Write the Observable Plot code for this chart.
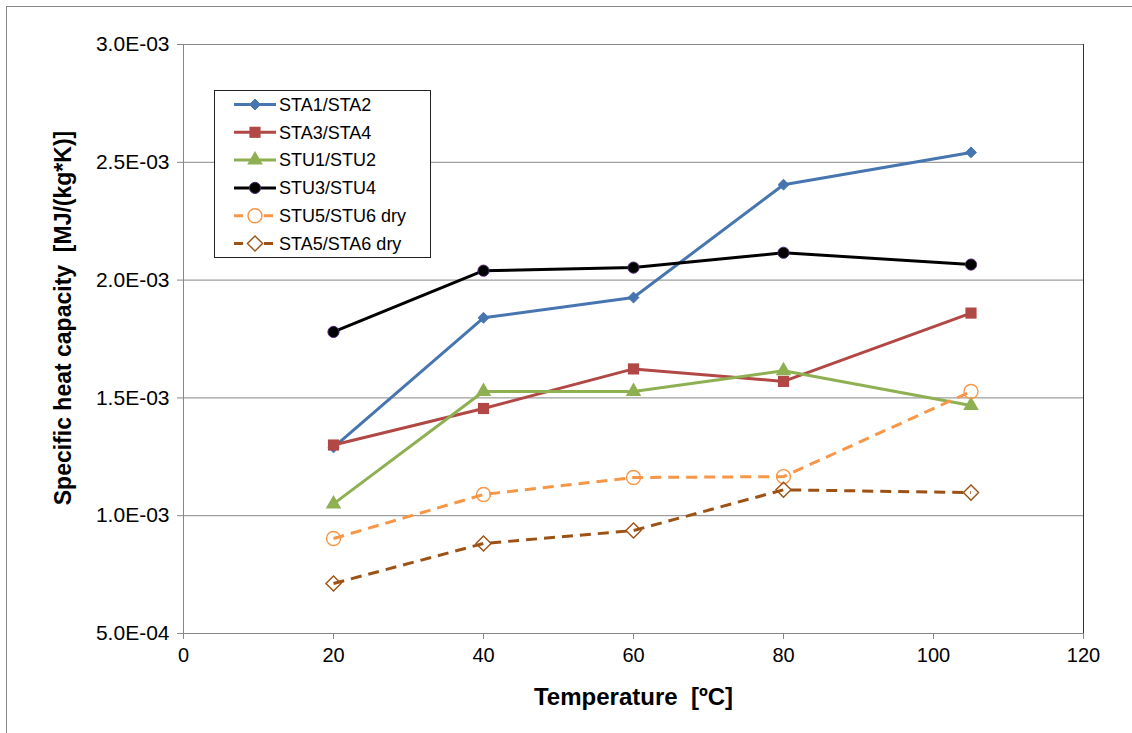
<!DOCTYPE html>
<html>
<head>
<meta charset="utf-8">
<script src="https://cdn.jsdelivr.net/npm/d3@7"></script>
<script src="https://cdn.jsdelivr.net/npm/@observablehq/plot@0.6"></script>
<style>
  html, body { margin: 0; padding: 0; background: #fff; }
  #wrap { position: relative; width: 1132px; height: 733px; overflow: hidden; font-family: "Liberation Sans", Arial, sans-serif; }
  #frame { position: absolute; left: 6px; top: 6px; width: 1200px; height: 800px; border-left: 1px solid #888; border-top: 1px solid #888; }
  #chart { position: absolute; left: 0; top: 0; }
  #legend { position: absolute; left: 214px; top: 90px; width: 215px; height: 166px; border: 1px solid #222; background: #fff; }
</style>
</head>
<body>
<div id="wrap">
  <div id="frame"></div>
  <div id="chart"></div>
  <div id="legend"></div>
</div>
<script>
// ---- data ----
const temps = [20, 40, 60, 80, 105];
const seriesNames = ["STA1/STA2", "STA3/STA4", "STU1/STU2", "STU3/STU4", "STU5/STU6 dry", "STA5/STA6 dry"];
const sta12 = [0.00129, 0.00184, 0.001926, 0.002405, 0.002542];
const sta34 = [0.0013, 0.001455, 0.001623, 0.00157, 0.00186];
const stu12 = [0.00105, 0.001527, 0.001527, 0.001615, 0.001468];
const stu34 = [0.00178, 0.00204, 0.002053, 0.002116, 0.002066];
const stu56dry = [0.000903, 0.00109, 0.001162, 0.001166, 0.001527];
const sta56dry = [0.000712, 0.000882, 0.000937, 0.00111, 0.001098];
const xTicks = [0, 20, 40, 60, 80, 100, 120];
const yTicks = [0.0005, 0.001, 0.0015, 0.002, 0.0025, 0.003];
const xTitle = "Temperature  [ºC]";
const yTitle = "Specific heat capacity  [MJ/(kg*K)]";

// ---- styles ----
const seriesValues = [sta12, sta34, stu12, stu34, stu56dry, sta56dry];
const styles = [
  {color: "#4675B0", symbol: "diamond2", r: 4.9, fill: "#4675B0", stroke: "#4675B0", dash: null},
  {color: "#B24845", symbol: "square", r: 6.3, fill: "#B24845", stroke: "none", dash: null},
  {color: "#8FB052", symbol: "triangle", r: 5.8, fill: "#8FB052", stroke: "none", dash: null},
  {color: "#000000", symbol: "circle", r: 5.6, fill: "#000000", stroke: "#4b2a6b", dash: null},
  {color: "#F79646", symbol: "circle", r: 7, fill: "none", stroke: "#F79646", dash: "11,7"},
  {color: "#9C5214", symbol: "diamond2", r: 6.8, fill: "none", stroke: "#9C5214", dash: "11,7"}
];

const rows = [];
seriesNames.forEach((name, si) => {
  temps.forEach((t, i) => rows.push({series: name, si, t, v: seriesValues[si][i]}));
});

function fmtE(d) {
  const e = Math.floor(Math.log10(d) + 1e-9);
  const m = d / Math.pow(10, e);
  return m.toFixed(1) + "E" + (e < 0 ? "-" : "+") + String(Math.abs(e)).padStart(2, "0");
}

const seriesMarks = [];
seriesNames.forEach((name, si) => {
  const s = styles[si];
  const data = rows.filter(r => r.si === si);
  seriesMarks.push(Plot.line(data, {x: "t", y: "v", stroke: s.color, strokeWidth: 3, strokeDasharray: s.dash, strokeLinecap: "butt", strokeLinejoin: "round"}));
  seriesMarks.push(Plot.dot(data, {x: "t", y: "v", symbol: () => s.symbol, r: s.r, fill: s.fill, stroke: s.stroke, strokeWidth: s.fill === "none" ? 1.4 : 1}));
});

const chart = Plot.plot({
  width: 1132,
  height: 733,
  marginLeft: 183,
  marginRight: 49,
  marginTop: 44,
  marginBottom: 100,
  style: {fontFamily: "'Liberation Sans', Arial, sans-serif", background: "transparent", color: "#000"},
  x: {domain: [0, 120]},
  y: {domain: [0.0005, 0.003]},
  symbol: {type: "identity"},
  marks: [
    Plot.gridY(yTicks, {stroke: "#878787", strokeOpacity: 1, strokeWidth: 1}),
    Plot.ruleX([0], {stroke: "#878787"}),
    Plot.ruleY([0.0005], {stroke: "#878787"}),
    Plot.ruleX([120], {stroke: "#333"}),
    Plot.axisX(xTicks, {tickSize: 6, tickPadding: 8, fontSize: 20, stroke: "#878787", label: null, fill: "#000"}),
    Plot.axisY(yTicks, {tickSize: 6, tickPadding: 8, fontSize: 21, stroke: "#878787", label: null, tickFormat: fmtE}),
    ...seriesMarks,
    Plot.text([xTitle], {frameAnchor: "bottom", dy: 71, fontSize: 24, fontWeight: "bold", fill: "#000"}),
    Plot.text([yTitle], {frameAnchor: "left", textAnchor: "middle", rotate: -90, dx: -120, dy: -21, fontSize: 23, fontWeight: "bold", fill: "#000"})
  ]
});
document.getElementById("chart").appendChild(chart);

// ---- legend ----
const lg = d3.select("#legend").append("svg").attr("width", 215).attr("height", 166)
  .style("font-family", "'Liberation Sans', Arial, sans-serif");
const symMap = {diamond2: d3.symbolDiamond2, square: d3.symbolSquare, triangle: d3.symbolTriangle, circle: d3.symbolCircle};
seriesNames.forEach((name, si) => {
  const s = styles[si];
  const cy = 13.5 + si * 27.8;
  const g = lg.append("g");
  g.append("line").attr("x1", 19).attr("x2", 61).attr("y1", cy).attr("y2", cy)
    .attr("stroke", s.color).attr("stroke-width", 3)
    .attr("stroke-dasharray", s.dash ? "9,6" : null);
  g.append("path").attr("d", d3.symbol(symMap[s.symbol], Math.PI * s.r * s.r)())
    .attr("transform", `translate(40,${cy})`)
    .attr("fill", s.fill === "none" ? "#fff" : s.fill)
    .attr("stroke", s.stroke).attr("stroke-width", s.fill === "none" ? 1.4 : 1);
  g.append("text").attr("x", 64).attr("y", cy).attr("dy", "0.35em")
    .attr("font-size", 18).attr("fill", "#000").text(name);
});
</script>
</body>
</html>
